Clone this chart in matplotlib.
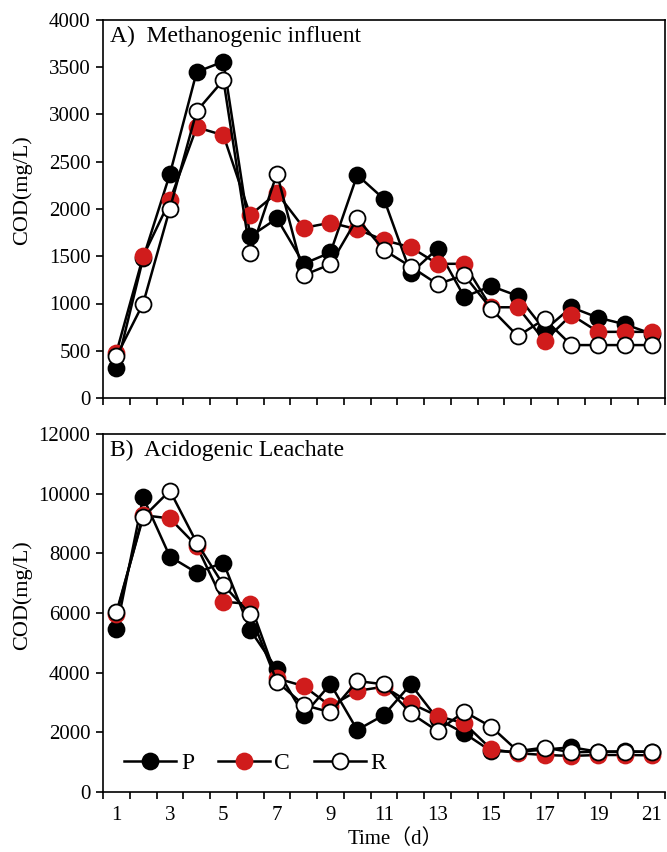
import matplotlib
matplotlib.use("Agg")
import matplotlib.pyplot as plt
import numpy as np

days = list(range(1, 22))

# Panel A: Methanogenic influent COD (mg/L)
A_P = [320, 1480, 2370, 3450, 3560, 1710, 1900, 1420, 1540, 2360, 2105, 1320, 1580, 1070, 1185, 1080, 720, 960, 850, 780, 680]
A_C = [480, 1500, 2090, 2865, 2780, 1935, 2170, 1800, 1855, 1785, 1670, 1595, 1420, 1420, 960, 960, 605, 880, 700, 700, 700]
A_R = [440, 1000, 2005, 3035, 3365, 1530, 2375, 1300, 1415, 1900, 1565, 1390, 1205, 1300, 945, 655, 835, 560, 560, 560, 560]

# Panel B: Acidogenic leachate COD (mg/L)
B_P = [5450, 9880, 7890, 7350, 7690, 5430, 4110, 2580, 3620, 2080, 2580, 3610, 2450, 1970, 1370, 1350, 1420, 1500, 1350, 1360, 1350]
B_C = [5950, 9280, 9170, 8250, 6380, 6300, 3810, 3550, 2880, 3390, 3530, 2970, 2550, 2300, 1440, 1300, 1240, 1210, 1240, 1240, 1230]
B_R = [6020, 9210, 10100, 8360, 6940, 5960, 3700, 2920, 2670, 3720, 3610, 2640, 2045, 2690, 2190, 1370, 1490, 1330, 1350, 1350, 1350]

series_names = ["P", "C", "R"]
face_colors = ["black", "#d01c1c", "white"]
edge_colors = ["black", "#d01c1c", "black"]

plt.rcParams['font.family'] = ['Liberation Serif', 'Noto Sans CJK SC', 'DejaVu Sans']

fig = plt.figure(figsize=(6.67, 8.52), dpi=100)
ax1 = fig.add_axes([103/667, 1-398/852, (665-103)/667, (398-20)/852])
ax2 = fig.add_axes([103/667, 1-792/852, (665-103)/667, (792-434)/852])

def draw(ax, data, ylim, yticks):
    handles = []
    for vals, name, fc, ec in zip(data, series_names, face_colors, edge_colors):
        h, = ax.plot(days, vals, '-o', color='black', lw=1.8, markersize=11.5,
                     markerfacecolor=fc, markeredgecolor=ec, markeredgewidth=1.3,
                     label=name)
        handles.append(h)
    ax.set_xlim(0.5, 21.5)
    ax.set_ylim(*ylim)
    ax.set_yticks(yticks)
    ax.set_xticks(np.arange(0.5, 21.6, 1.0))
    ax.set_xticklabels([])
    ax.set_xticks(list(range(1, 22, 2)), minor=True)
    ax.tick_params(axis='x', which='major', direction='out', length=5, width=1.2)
    ax.tick_params(axis='x', which='minor', length=0, labelsize=15, pad=10)
    ax.tick_params(axis='y', direction='out', length=5, width=1.2, labelsize=15, pad=4)
    for s in ax.spines.values():
        s.set_linewidth(1.2)
    ax.set_ylabel("COD(mg/L)", fontsize=16)
    return handles

draw(ax1, [A_P, A_C, A_R], (0, 4000), list(range(0, 4001, 500)))
ax1.text(0.012, 0.985, "A)  Methanogenic influent", transform=ax1.transAxes,
         fontsize=17, va='top', ha='left')

h = draw(ax2, [B_P, B_C, B_R], (0, 12000), list(range(0, 12001, 2000)))
ax2.set_xticklabels([str(d) for d in range(1, 22, 2)], minor=True)
ax2.spines['right'].set_visible(False)
ax2.text(0.012, 0.985, "B)  Acidogenic Leachate", transform=ax2.transAxes,
         fontsize=17, va='top', ha='left')
ax2.set_xlabel("Time（d）", fontsize=15)
ax2.xaxis.set_label_coords(0.52, -0.105)
ax2.legend(handles=h, loc='lower left', ncol=3, frameon=False, fontsize=17,
           handlelength=2.2, columnspacing=1.0, handletextpad=0.2,
           bbox_to_anchor=(0.0, -0.01))

ax1.yaxis.set_label_coords(-0.126, 0.55)
ax2.yaxis.set_label_coords(-0.126, 0.55)

fig.savefig("out.png", dpi=100)
